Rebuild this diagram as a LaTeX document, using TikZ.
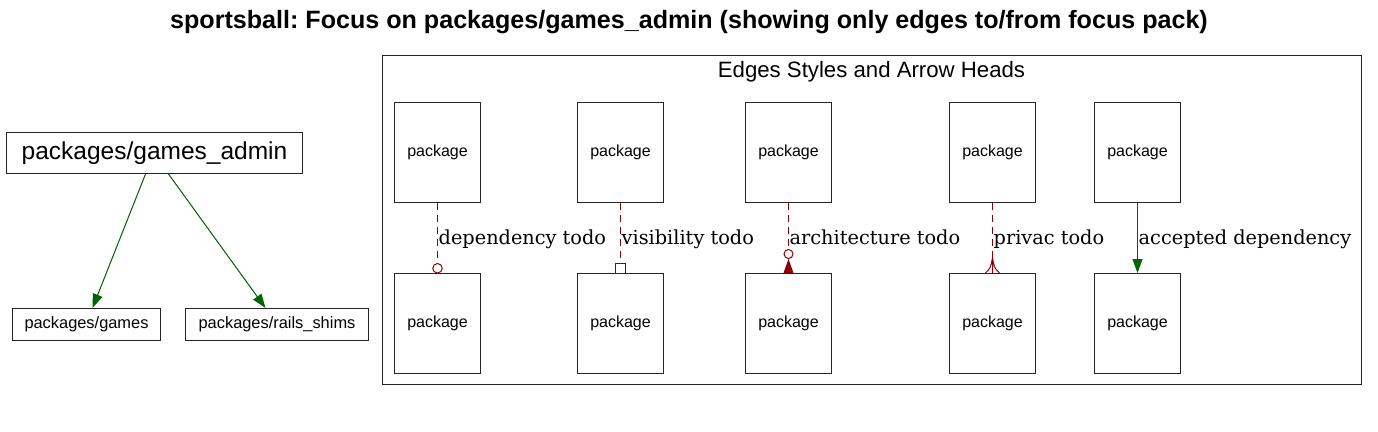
\documentclass[tikz,border=0pt]{standalone}
\usepackage{fontspec}
\newfontfamily\arial{Liberation Sans}
\newfontfamily\dvserif{DejaVu Serif}
\usetikzlibrary{arrows.meta}
\definecolor{dred}{RGB}{139,0,0}
\definecolor{dgreen}{RGB}{0,100,0}
\frenchspacing
\tikzset{
  pkg/.style={draw=black!85, line width=1pt, minimum width=86pt, minimum height=100pt, inner sep=0pt, font=\arial\fontsize{16}{18}\selectfont},
  lbox/.style={draw=black!85, line width=1pt, inner sep=0pt, font=\arial\fontsize{16.4}{18}\selectfont},
  todo/.style={draw=dred, line width=1pt, dash pattern=on 7pt off 5pt},
  tipmark/.style={draw=dred, line width=1pt},
  okdep/.style={draw=dgreen, line width=1pt, -{Triangle[length=14pt,width=10pt]}, fill=dgreen},
  elabel/.style={font=\dvserif\fontsize{19.3}{22}\selectfont, inner sep=0pt, anchor=base west}
}
\begin{document}
\begin{tikzpicture}[x=1pt,y=-1pt]
\useasboundingbox (0,0) rectangle (1378,431);
\node[font=\arial\bfseries\fontsize{25.1}{28}\selectfont] (title) at (689,22) {sportsball: Focus on packages/games\_admin (showing only edges to/from focus pack)};
% left graph
\node[lbox, minimum width=296pt, minimum height=41pt, font=\arial\fontsize{24.5}{27}\selectfont] (ga) at (154.5,153) {packages/games\_admin};
\node[lbox, minimum width=148pt, minimum height=32pt] (g) at (86.5,324.5) {packages/games};
\node[lbox, minimum width=183pt, minimum height=32pt] (r) at (277,324.5) {packages/rails\_shims};
\draw[okdep] ([xshift=-9pt]ga.south) -- ([xshift=6pt]g.north);
\draw[okdep] ([xshift=14pt]ga.south) -- ([xshift=-11.5pt]r.north);
% cluster
\node[draw=black!85, line width=1pt, minimum width=979pt, minimum height=329pt, inner sep=0pt] (cl) at (872,220) {};
\node[font=\arial\fontsize{22.2}{24}\selectfont] (cllabel) at (871.5,72) {Edges Styles and Arrow Heads};
% packages
\foreach \n/\x in {1/437.5,2/620.5,3/788.5,4/992.5,5/1137.5}{
  \node[pkg] (t\n) at (\x,152.5) {package};
  \node[pkg] (b\n) at (\x,323.5) {package};
}
% labels
\node[elabel] (l1) at (438.5,244) {dependency todo};
\node[elabel] (l2) at (621.5,244) {visibility todo};
\node[elabel] (l3) at (789.5,244) {architecture todo};
\node[elabel] (l4) at (993.5,244) {privac todo};
\node[elabel] (l5) at (1138.5,244) {accepted dependency};
% 1: open dot
\draw[todo] (t1.south) -- ([yshift=9.5pt]b1.north);
\draw[tipmark] ([yshift=4.75pt]b1.north) circle[radius=4.75pt];
% 2: open box
\draw[todo] (t2.south) -- ([yshift=10pt]b2.north);
\draw[tipmark] ([xshift=-5pt]b2.north) rectangle ([xshift=5pt,yshift=10pt]b2.north);
% 3: open dot + normal
\draw[todo] (t3.south) -- ([yshift=23.5pt]b3.north);
\draw[tipmark] ([yshift=19pt]b3.north) circle[radius=4.5pt];
\fill[dred] ([xshift=-5pt]b3.north) -- ([xshift=5pt]b3.north) -- ([yshift=14pt]b3.north) -- cycle;
% 4: crow
\draw[todo] (t4.south) -- ([yshift=15pt]b4.north);
\draw[tipmark] ([yshift=15pt]b4.north) -- (b4.north)
  ([yshift=15pt]b4.north) .. controls ([xshift=-2pt,yshift=5pt]b4.north) .. ([xshift=-7pt]b4.north)
  ([yshift=15pt]b4.north) .. controls ([xshift=2pt,yshift=5pt]b4.north) .. ([xshift=7pt]b4.north);
% 5: accepted
\draw[okdep] (t5.south) -- (b5.north);
\end{tikzpicture}
\end{document}
